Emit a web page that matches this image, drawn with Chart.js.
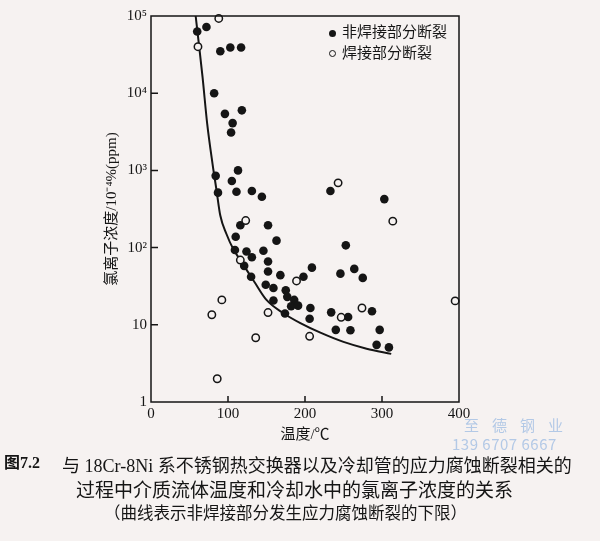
<!DOCTYPE html>
<html><head><meta charset="utf-8">
<script src="https://cdn.jsdelivr.net/npm/chart.js@4.4.1/dist/chart.umd.min.js"></script>
<style>
html,body{margin:0;padding:0;background:#f6f2f1;}
#wrap{position:relative;width:600px;height:541px;overflow:hidden;background:#f6f2f1;}
canvas{position:absolute;left:0;top:0;}
.t{position:absolute;white-space:nowrap;color:#151515;font-family:"Liberation Serif","Noto Sans CJK SC",serif;line-height:1;}
.cjk{font-family:"Liberation Serif","Noto Sans CJK SC",sans-serif;}
.dot{position:absolute;width:7px;height:7px;border-radius:50%;box-sizing:border-box;}
.wm{position:absolute;white-space:nowrap;color:#b3c9e6;font-family:"Noto Sans CJK SC","Liberation Sans",sans-serif;line-height:1;}
</style></head><body>
<div id="wrap">
<canvas id="c" width="600" height="541"></canvas>
<div class="dot" style="left:329px;top:30px;background:#151515;"></div>
<div class="t cjk" style="left:342px;top:25px;font-size:15px;">非焊接部分断裂</div>
<div class="dot" style="left:329px;top:50px;border:1.5px solid #151515;background:#f6f2f1;"></div>
<div class="t cjk" style="left:342px;top:46px;font-size:15px;">焊接部分断裂</div>
<div class="wm" style="left:464px;top:417px;font-size:15px;letter-spacing:13px;">至德钢业</div>
<div class="wm" style="left:452px;top:436px;font-size:15px;letter-spacing:0.5px;">139 6707 6667</div>
<div class="t" style="left:4px;top:455px;font-size:16px;font-weight:bold;">图7.2</div>
<div class="t cjk" style="left:62px;top:457px;font-size:18px;">与 18Cr-8Ni 系不锈钢热交换器以及冷却管的应力腐蚀断裂相关的</div>
<div class="t cjk" style="left:76px;top:481px;font-size:19px;">过程中介质流体温度和冷却水中的氯离子浓度的关系</div>
<div class="t cjk" style="left:104px;top:506px;font-size:16.5px;">（曲线表示非焊接部分发生应力腐蚀断裂的下限）</div>
</div>
<script>
// ---- data ----
const xTicks = [0, 100, 200, 300, 400];
const yTicks = [1, 10, 100, 1000, 10000, 100000];
const yTickLabels = ["1", "10", "10²", "10³", "10⁴", "10⁵"];

// non-welded fracture (filled dots): temperature (°C), chloride (ppm)
const filledX = [60, 72, 90, 103, 117, 82, 96, 118, 106, 104,
  84, 113, 105, 87, 111, 131, 144, 116, 152, 110,
  163, 109, 124, 146, 131, 121, 152, 152, 130, 168,
  149, 159, 175, 159, 174, 177, 186, 182, 191, 198,
  209, 207, 206, 233, 253, 246, 264, 275, 287, 234,
  256, 240, 259, 297, 293, 309, 303];
const filledY = [63000, 72000, 35000, 39000, 39000, 10000, 5400, 6000, 4100, 3100,
  850, 1000, 730, 515, 530, 540, 455, 195, 195, 138,
  123, 93, 89, 91, 75, 58, 66, 49, 42, 44,
  33, 30, 28, 20.6, 14, 23, 21, 17.4, 17.7, 42,
  55, 16.5, 12, 540, 107, 46, 53, 40.5, 15, 14.5,
  12.6, 8.6, 8.5, 8.6, 5.5, 5.1, 425];

// welded fracture (open circles)
const openX = [88, 61, 123, 116, 92, 79, 152, 136, 86, 189, 206, 243, 274, 247, 314, 395];
const openY = [93000, 40000, 224, 69, 21, 13.5, 14.4, 6.8, 2.0, 37, 7.1, 690, 16.5, 12.5, 220, 20.4];

// lower-limit curve for non-welded fracture
const curveX = [58, 62, 67, 73, 80, 85, 90, 98, 107, 116, 125, 135, 150, 172, 194, 220, 250, 280, 312];
const curveY = [100000, 45000, 16000, 4000, 1200, 560, 260, 150, 95, 69, 50, 35, 21, 14.1, 10.5, 7.9, 6.0, 4.9, 4.2];

const INK = '#151515';
const BG = '#f6f2f1';
const pts = (xs, ys) => xs.map((x, i) => ({x: x, y: ys[i]}));

const framePlugin = {
  id: 'frame',
  afterDraw(chart) {
    const {ctx, chartArea: a, scales: {x, y}} = chart;
    ctx.save();
    ctx.strokeStyle = INK;
    ctx.lineWidth = 1.5;
    ctx.strokeRect(a.left, a.top, a.right - a.left, a.bottom - a.top);
    ctx.beginPath();
    x.ticks.forEach(t => {
      if (t.value <= x.min || t.value >= x.max) return;
      const px = x.getPixelForValue(t.value);
      ctx.moveTo(px, a.bottom); ctx.lineTo(px, a.bottom - 6);
    });
    y.ticks.forEach(t => {
      if (t.value <= y.min || t.value >= y.max) return;
      const py = y.getPixelForValue(t.value);
      ctx.moveTo(a.left, py); ctx.lineTo(a.left + 7, py);
    });
    ctx.stroke();
    ctx.restore();
  }
};

new Chart(document.getElementById('c'), {
  type: 'scatter',
  data: {
    datasets: [
      {label: '下限', data: pts(curveX, curveY), showLine: true, borderColor: INK, borderWidth: 2,
        pointRadius: 0, cubicInterpolationMode: 'monotone', fill: false, clip: false, order: 3},
      {label: '非焊接部分断裂', data: pts(filledX, filledY), pointRadius: 4.3, backgroundColor: INK,
        borderColor: INK, borderWidth: 0, clip: false, order: 2},
      {label: '焊接部分断裂', data: pts(openX, openY), pointRadius: 3.7, backgroundColor: BG,
        borderColor: INK, borderWidth: 1.5, clip: false, order: 1}
    ]
  },
  options: {
    responsive: false,
    animation: false,
    layout: {padding: {left: 95, right: 141, top: 16, bottom: 93}},
    plugins: {legend: {display: false}, tooltip: {enabled: false}},
    scales: {
      x: {
        type: 'linear', min: 0, max: 400,
        afterBuildTicks(s) { s.ticks = xTicks.map(v => ({value: v})); },
        afterFit(s) { s.height = 46; },
        grid: {display: false, drawTicks: false},
        border: {display: false},
        ticks: {padding: 3, color: INK, maxRotation: 0, font: {family: '"Liberation Serif", serif', size: 15}},
        title: {display: true, text: '温度/℃', color: INK, padding: {top: 2, bottom: 4},
          font: {family: '"Liberation Serif", "Noto Sans CJK SC", serif', size: 15}}
      },
      y: {
        type: 'logarithmic', min: 1, max: 100000,
        afterBuildTicks(s) { s.ticks = yTicks.map(v => ({value: v})); },
        afterFit(s) { s.width = 56; },
        grid: {display: false, drawTicks: false},
        border: {display: false},
        ticks: {padding: 4, color: INK, font: {family: '"Liberation Serif", serif', size: 15},
          callback: (v) => { const i = yTicks.indexOf(v); return i >= 0 ? yTickLabels[i] : ''; }},
        title: {display: true, text: '氯离子浓度/10⁻⁴%(ppm)', color: INK, padding: {top: 8, bottom: 0},
          font: {family: '"Liberation Serif", "Noto Sans CJK SC", serif', size: 15}}
      }
    }
  },
  plugins: [framePlugin]
});
</script>
</body></html>
